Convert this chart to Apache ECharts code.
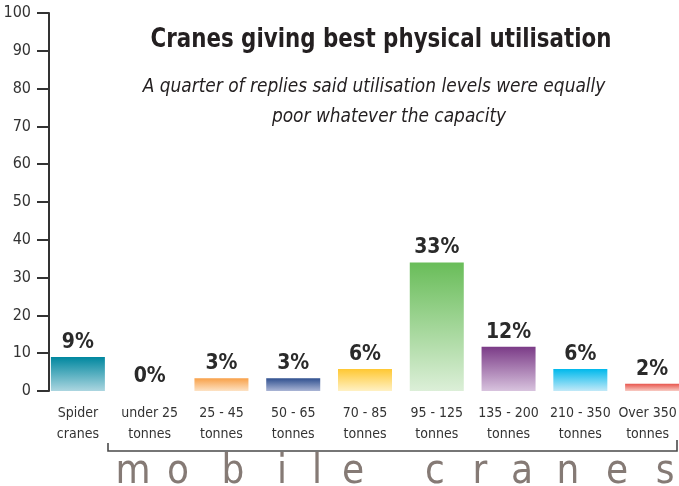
<!DOCTYPE html>
<html><head><meta charset="utf-8">
<script src="https://cdn.jsdelivr.net/npm/echarts@6/dist/echarts.min.js"></script>
<style>html,body{margin:0;padding:0;background:#fff}#c{width:679px;height:486px}</style>
</head><body><div id="c"></div>
<script>
const categories = ['Spider\ncranes','under 25\ntonnes','25 - 45\ntonnes','50 - 65\ntonnes','70 - 85\ntonnes','95 - 125\ntonnes','135 - 200\ntonnes','210 - 350\ntonnes','Over 350\ntonnes'];
const barValues = [9, 0, 3.4, 3.4, 5.8, 34, 11.7, 5.8, 1.9];
const barLabels = ['9%','0%','3%','3%','6%','33%','12%','6%','2%'];
const topColors = ['#00879f','#00879f','#f8a048','#2f4f8f','#ffc833','#69bd59','#7b3b87','#00b9ec','#e8564e'];
const bottomColors = ['#acd6e0','#acd6e0','#fde2c4','#aab5d5','#fff1c4','#dcefd8','#d8c3de','#c2e9f8','#f8cbc3'];
const yTicks = [0,10,20,30,40,50,60,70,80,90,100];
const title = 'Cranes giving best physical utilisation';
const subtitleLines = ['A quarter of replies said utilisation levels were equally', 'poor whatever the capacity'];
const groupLetters = ['m','o','b','i','l','e','c','r','a','n','e','s'];
const letterX = [133,178,233,282,317,353,435,480,522,568,617,665];

const FONT = "'DejaVu Sans Condensed','Liberation Sans Narrow',sans-serif";
const chart = echarts.init(document.getElementById('c'));

const data = barValues.map((v,i)=>({
  value: v,
  itemStyle: { color: new echarts.graphic.LinearGradient(0,0,0,1,[{offset:0,color:topColors[i]},{offset:1,color:bottomColors[i]}]) },
  label: { formatter: barLabels[i] }
}));

const catData = categories.map((c,i)=> i === categories.length-1
  ? { value:c, textStyle:{ padding:[0,9,0,0] } } : c);

const graphics = [
  { id:'t1', type:'text', x:381, y:40, scaleX:0.88, style:{ text:title, font:"bold 27px "+FONT, fill:'#231f20', textAlign:'center', textVerticalAlign:'middle' } },
  { id:'t2', type:'text', x:374, y:87, scaleX:0.945, style:{ text:subtitleLines[0], font:"italic 20px "+FONT, fill:'#231f20', textAlign:'center', textVerticalAlign:'middle' } },
  { id:'t3', type:'text', x:389, y:117, scaleX:0.945, style:{ text:subtitleLines[1], font:"italic 20px "+FONT, fill:'#231f20', textAlign:'center', textVerticalAlign:'middle' } },
  { id:'br', type:'polyline', shape:{ points:[[108,443],[108,451],[677,451],[677,440]] }, style:{ stroke:'#4a4a4a', lineWidth:1.6, fill:null } }
];
groupLetters.forEach((ch,i)=>{
  graphics.push({ id:'L'+i, type:'text', x: letterX[i], y: 473, style:{ text: ch, font:"40px "+FONT, fill:'#857a75', textAlign:'center', textVerticalAlign:'middle' } });
});

chart.setOption({
  animation:false,
  grid:{ left:42, width:646, top:13, bottom:95, outerBoundsMode:'none', containLabel:false },
  xAxis:{ type:'category', data:catData, axisLine:{show:false}, axisTick:{show:false},
    axisLabel:{ color:'#333', fontFamily:FONT, fontSize:14, lineHeight:21, margin:12, interval:0 } },
  yAxis:{ type:'value', min:0, max:100, interval:10, offset:-7,
    axisLine:{ show:true, lineStyle:{ color:'#333', width:2 } },
    axisTick:{ show:true, length:12, lineStyle:{ color:'#333', width:2 } },
    splitLine:{ show:false },
    axisLabel:{ color:'#333', fontFamily:FONT, fontSize:16, margin:18, formatter:v=>yTicks.includes(v)?String(v):'' } },
  series:[{ type:'bar', data:data, barWidth:54,
    label:{ show:true, position:'top', distance:4, color:'#2a2a2a', fontFamily:FONT, fontWeight:'bold', fontSize:21 } }],
  graphic: graphics
});
</script></body></html>
